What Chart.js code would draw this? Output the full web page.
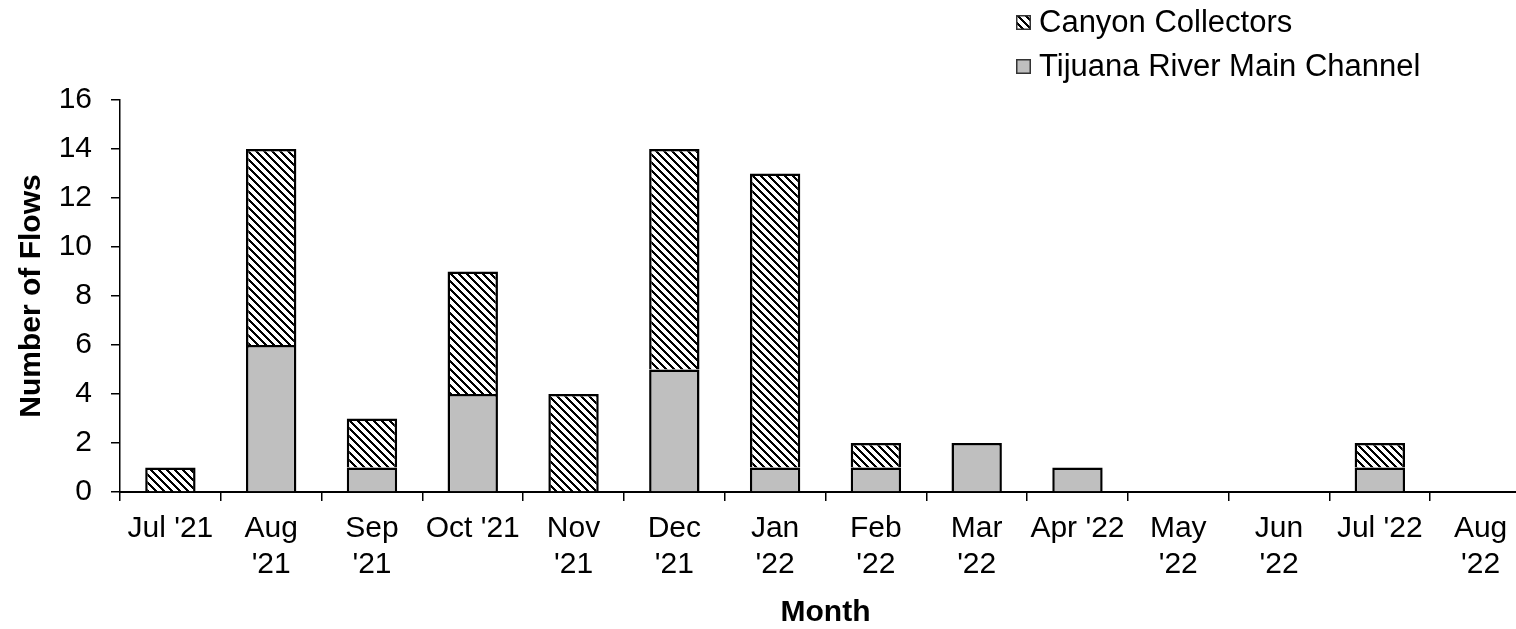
<!DOCTYPE html>
<html>
<head>
<meta charset="utf-8">
<script src="https://cdn.jsdelivr.net/npm/chart.js@4.4.1/dist/chart.umd.min.js"></script>
<style>
  html, body { margin: 0; padding: 0; background: #fff; overflow: hidden; }
  #wrap { position: relative; width: 1540px; height: 629px; }
  #legend { position: absolute; left: 1016px; top: 0; font: 31px 'Liberation Sans', Arial, sans-serif; color: #000; }
  .item { display: flex; align-items: center; height: 44px; }
  .item canvas { margin-right: 8px; }
</style>
</head>
<body>
<div id="wrap">
  <canvas id="chart" width="1540" height="629"></canvas>
  <div id="legend"></div>
</div>
<script>
// data
const months = [
  ["Jul '21"], ['Aug', "'21"], ['Sep', "'21"], ["Oct '21"], ['Nov', "'21"],
  ['Dec', "'21"], ['Jan', "'22"], ['Feb', "'22"], ['Mar', "'22"], ["Apr '22"],
  ['May', "'22"], ['Jun', "'22"], ["Jul '22"], ['Aug', "'22"],
];
const mainChannel      = [0, 6, 1, 4, 0, 5, 1, 1, 2, 1, 0, 0, 1, 0];
const canyonCollectors = [1, 8, 2, 5, 4, 9, 12, 1, 0, 0, 0, 0, 1, 0];
const yMin = 0, yMax = 16, yStep = 2;

const FONT = "'Liberation Sans', Arial, sans-serif";
const GREY = '#bfbfbf';

// wide downward diagonal, 8px tile
function hatchTile() {
  const c = document.createElement('canvas');
  c.width = 8; c.height = 8;
  const g = c.getContext('2d');
  g.fillStyle = '#fff';
  g.fillRect(0, 0, 8, 8);
  g.fillStyle = '#000';
  for (let y = 0; y < 8; y++) {
    for (let k = 0; k < 3; k++) g.fillRect((y + k) % 8, y, 1, 1);
  }
  return c;
}
const tile  = hatchTile();
const ctx   = document.getElementById('chart').getContext('2d');
const hatch = ctx.createPattern(tile, 'repeat');

const chart = new Chart(ctx, {
  type: 'bar',
  data: {
    labels: months,
    datasets: [
      {
        label: 'Tijuana River Main Channel',
        data: mainChannel.map(v => v || null),
        backgroundColor: GREY,
        borderColor: '#000',
        borderWidth: 2.5,
      },
      {
        label: 'Canyon Collectors',
        data: canyonCollectors.map(v => v || null),
        backgroundColor: hatch,
        borderColor: '#000',
        borderWidth: 2.5,
      },
    ],
  },
  options: {
    responsive: false,
    animation: false,
    layout: { padding: { top: 100, right: 9, left: 0, bottom: 0 } },
    datasets: { bar: { categoryPercentage: 1, barPercentage: 0.5 } },
    plugins: { legend: { display: false }, tooltip: { enabled: false } },
    scales: {
      x: {
        stacked: true,
        afterFit: (s) => { s.height = 137; },
        grid: { display: true, drawOnChartArea: false, drawTicks: true, tickLength: 9, color: '#000', lineWidth: 1.5 },
        border: { display: true, color: '#000', width: 2 },
        ticks: { color: '#000', padding: 10, maxRotation: 0, autoSkip: false, font: { family: FONT, size: 30, lineHeight: 1.2 } },
        title: {
          display: true, text: 'Month', color: '#000',
          padding: { top: 0, bottom: 0 },
          font: { family: FONT, size: 30, weight: 'bold', lineHeight: 1.1 },
        },
      },
      y: {
        stacked: true,
        min: yMin,
        max: yMax,
        afterFit: (s) => { s.width = 120; },
        grid: { display: true, drawOnChartArea: false, drawTicks: true, tickLength: 9, color: '#000', lineWidth: 1.5 },
        border: { display: true, color: '#000', width: 1.5 },
        ticks: { stepSize: yStep, color: '#000', padding: 19, font: { family: FONT, size: 30 } },
        title: {
          display: true, text: 'Number of Flows', color: '#000',
          padding: { top: 14, bottom: 0 },
          font: { family: FONT, size: 30, weight: 'bold', lineHeight: 1.2 },
        },
      },
    },
  },
});

// legend, Excel order (top series first)
const legend = document.getElementById('legend');
chart.data.datasets.slice().reverse().forEach((ds) => {
  const row = document.createElement('div');
  row.className = 'item';
  const sw = document.createElement('canvas');
  sw.width = 15; sw.height = 15;
  const g = sw.getContext('2d');
  g.fillStyle = ds.backgroundColor === hatch ? g.createPattern(tile, 'repeat') : ds.backgroundColor;
  g.fillRect(0, 0, 15, 15);
  g.strokeStyle = '#333';
  g.lineWidth = 1.5;
  g.strokeRect(0.75, 0.75, 13.5, 13.5);
  const txt = document.createElement('span');
  txt.textContent = ds.label;
  row.appendChild(sw);
  row.appendChild(txt);
  legend.appendChild(row);
});
</script>
</body>
</html>
